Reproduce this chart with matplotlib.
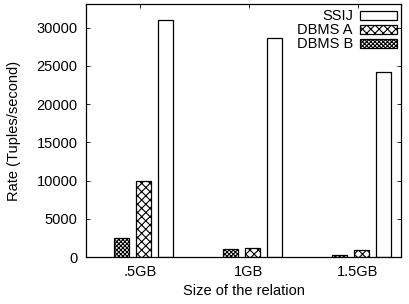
import numpy as np
import matplotlib
matplotlib.use('Agg')
import matplotlib.pyplot as plt

plt.rcParams['font.family'] = ['Liberation Sans', 'DejaVu Sans']
plt.rcParams['hatch.linewidth'] = 0.8

sizes = ['.5GB', '1GB', '1.5GB']
ssij = [31050, 28600, 24150]
dbms_a = [10000, 1150, 950]
dbms_b = [2500, 1000, 200]

x = np.arange(len(sizes))
w = 0.138
fs = 10.5

fig = plt.figure(figsize=(4.1, 3.04), dpi=100)
ax = fig.add_axes([0.2098, 0.1546, 0.978 - 0.2098, 0.9868 - 0.1546])

ax.bar(x + 0.235, ssij, w, color='white', edgecolor='black', linewidth=0.9, label='SSIJ')
ax.bar(x + 0.035, dbms_a, w, color='white', edgecolor='black', linewidth=0.9, hatch='xxxx', label='DBMS A')
ax.bar(x - 0.17, dbms_b, w, color='white', edgecolor='black', linewidth=0.9, hatch='xxxxxxxx', label='DBMS B')

ax.set_xlim(-0.495, 2.395)
ax.set_ylim(0, 33100)
ax.set_xticks(x)
ax.set_xticklabels(sizes)
ax.set_yticks([0, 5000, 10000, 15000, 20000, 25000, 30000])
ax.tick_params(direction='in', top=True, right=True, labelsize=fs, length=3, width=0.6, pad=6)
ax.tick_params(axis='x', bottom=False)
for s in ax.spines.values():
    s.set_linewidth(0.9)

ax.set_xlabel('Size of the relation', fontsize=fs, labelpad=3)
ax.set_ylabel('Rate (Tuples/second)', fontsize=fs, labelpad=11)

ax.legend(loc='upper right', bbox_to_anchor=(0.998, 0.99), frameon=False,
          markerfirst=False, fontsize=fs,
          handlelength=2.6, handleheight=0.55, labelspacing=0.0,
          borderaxespad=0.1, borderpad=0.1, handletextpad=0.45)

fig.savefig('out.png', dpi=100)
